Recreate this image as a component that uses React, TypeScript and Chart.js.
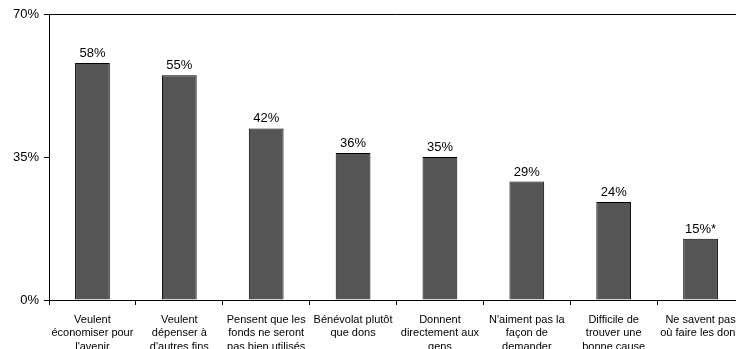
import React, { useEffect, useRef } from "react";
import { Chart, registerables } from "chart.js";

Chart.register(...registerables);

// Reasons given for not donating (share of respondents)
const categories: string[][] = [
  ["Veulent", "économiser pour", "l'avenir"],
  ["Veulent", "dépenser à", "d'autres fins"],
  ["Pensent que les", "fonds ne seront", "pas bien utilisés"],
  ["Bénévolat plutôt", "que dons"],
  ["Donnent", "directement aux", "gens"],
  ["N'aiment pas la", "façon de", "demander"],
  ["Difficile de", "trouver une", "bonne cause"],
  ["Ne savent pas", "où faire les dons"],
];
const values: number[] = [58, 55, 42, 36, 35, 29, 24, 15];
// Footnote markers appended to the value labels
const valueNotes: string[] = ["", "", "", "", "", "", "", "*"];
const yTicks: number[] = [0, 35, 70];

const FONT = "'Liberation Sans', Arial, Helvetica, sans-serif";

const frameAndLabels = {
  id: "frameAndLabels",
  afterDatasetsDraw(chart: any) {
    const { ctx, chartArea } = chart;
    ctx.save();
    // top and right frame lines
    ctx.strokeStyle = "#000";
    ctx.lineWidth = 1;
    ctx.beginPath();
    ctx.moveTo(chartArea.left, chartArea.top + 0.5);
    ctx.lineTo(chartArea.right + 0.5, chartArea.top + 0.5);
    ctx.lineTo(chartArea.right + 0.5, chartArea.bottom);
    ctx.stroke();
    // value labels above each bar
    const meta = chart.getDatasetMeta(0);
    ctx.fillStyle = "#000";
    ctx.font = `13px ${FONT}`;
    ctx.textAlign = "center";
    ctx.textBaseline = "alphabetic";
    meta.data.forEach((bar: any, i: number) => {
      ctx.fillText(`${values[i]}%${valueNotes[i]}`, bar.x, bar.y - 6);
    });
    ctx.restore();
  },
};

export default function App() {
  const canvasRef = useRef<HTMLCanvasElement | null>(null);

  useEffect(() => {
    if (!canvasRef.current) return;
    const chart = new Chart(canvasRef.current, {
      type: "bar",
      data: {
        labels: categories,
        datasets: [
          {
            data: values,
            backgroundColor: "#555555",
            borderColor: "#000000",
            borderWidth: 1,
            categoryPercentage: 1,
            barPercentage: 0.4,
          },
        ],
      },
      options: {
        animation: false,
        responsive: false,
        devicePixelRatio: 1,
        layout: { padding: { top: 14, right: 16, left: 0, bottom: 0 } },
        plugins: {
          legend: { display: false },
          tooltip: { enabled: false },
        },
        scales: {
          x: {
            offset: true,
            grid: {
              offset: true,
              drawOnChartArea: false,
              drawTicks: true,
              tickLength: 5,
              color: "#000",
            },
            border: { display: true, color: "#000", width: 1 },
            ticks: {
              autoSkip: false,
              maxRotation: 0,
              minRotation: 0,
              padding: 8,
              color: "#000",
              font: { family: FONT, size: 11, lineHeight: 1.22 },
            },
            afterFit: (s: any) => {
              s.height = 70;
            },
          },
          y: {
            min: 0,
            max: 70,
            afterBuildTicks: (s: any) => {
              s.ticks = yTicks.map((v) => ({ value: v }));
            },
            grid: {
              drawOnChartArea: false,
              drawTicks: true,
              tickLength: 5,
              color: "#000",
            },
            border: { display: true, color: "#000", width: 1 },
            ticks: {
              padding: 5,
              color: "#000",
              font: { family: FONT, size: 13 },
              callback: (v: any) => `${v}%`,
            },
            afterFit: (s: any) => {
              s.width = 49;
            },
          },
        },
      },
      plugins: [frameAndLabels],
    });
    return () => chart.destroy();
  }, []);

  return (
    <div
      style={{
        position: "fixed",
        left: 0,
        top: 0,
        width: 736,
        height: 349,
        overflow: "hidden",
        background: "#fff",
      }}
    >
      <canvas ref={canvasRef} width={760} height={370} style={{ display: "block" }} />
    </div>
  );
}
